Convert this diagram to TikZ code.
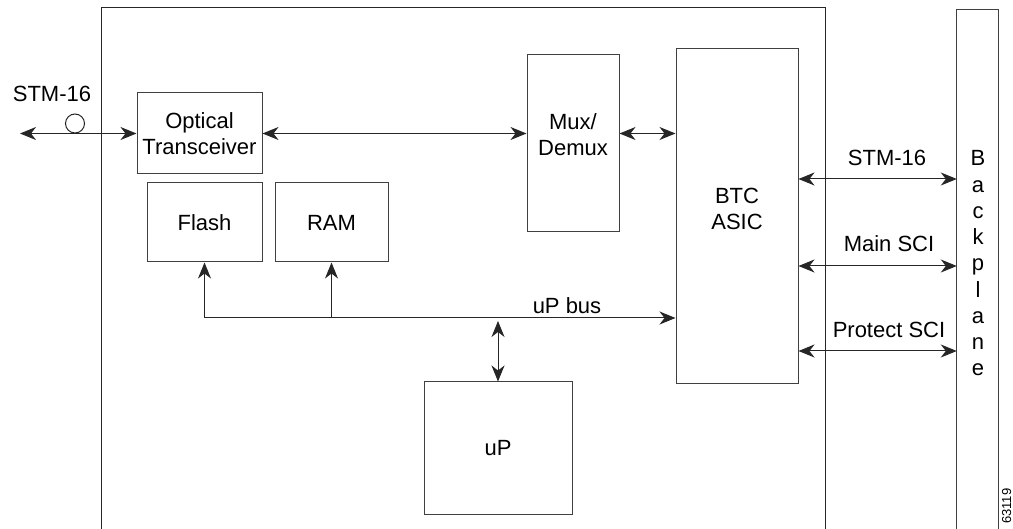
\documentclass[tikz,border=0pt]{standalone}
\usepackage{fontspec}
\setmainfont{Liberation Sans}
\usetikzlibrary{arrows.meta}
\begin{document}
\begin{tikzpicture}[x=1pt,y=-1pt,
  every node/.style={font=\fontsize{22}{26}\selectfont, text=black},
  box/.style={draw=black!75, line width=1pt, rectangle, inner sep=0pt, align=center},
  conn/.style={line width=1pt, draw=black!85},
  >={Stealth[length=16pt,width=13pt,inset=5pt]},
  lbl/.style={anchor=base, inner sep=0pt}]
\useasboundingbox (0,0) rectangle (1013,529);
% board and backplane frames (open at the bottom)
\node[inner sep=0pt, minimum width=723pt, minimum height=530pt] (board) at (463.5,273) {};
\draw[line width=1pt, black!85] (board.south west) -- (board.north west) -- (board.north east) -- (board.south east);
\node[inner sep=0pt, minimum width=41pt, minimum height=528pt] (bp) at (977.5,274) {};
\draw[line width=1pt, black!75] (bp.south west) -- (bp.north west) -- (bp.north east) -- (bp.south east);
% blocks
\node[box, minimum width=125pt, minimum height=81pt] (opt) at (199.5,133.5) {Optical\\Transceiver};
\node[box, minimum width=115pt, minimum height=79pt] (flash) at (204.5,222.5) {Flash};
\node[box, minimum width=113pt, minimum height=79pt] (ram) at (331.5,222.5) {RAM};
\node[box, minimum width=92pt, minimum height=177pt] (mux) at (573,143.5) {};
\node[align=center, inner sep=0pt] (muxt) at (573,135) {Mux/\\Demux};
\node[box, minimum width=122pt, minimum height=335pt] (btc) at (737,216.5) {};
\node[align=center, inner sep=0pt] (btct) at (737,209) {BTC\\ASIC};
\node[box, minimum width=148pt, minimum height=132pt] (up) at (498,448) {uP};
% line input
\node[lbl] (stml) at (52,102) {STM-16};
\node[draw=black!85, line width=1pt, circle, minimum size=19pt, inner sep=0pt] (lens) at (75,123.5) {};
\coordinate (stmend) at (20,133.5);
\draw[conn,<->] (stmend) -- (opt.west);
\draw[conn,<->] (opt.east) -- (opt.east -| mux.west);
\draw[conn,<->] (opt.east -| mux.east) -- (opt.east -| btc.west);
% uP bus
\coordinate (busL) at (flash.south |- 0,318);
\draw[conn,->] (busL) -- (busL -| btc.west);
\draw[conn,->] (busL) -- (flash.south);
\draw[conn,->] (ram.south |- busL) -- (ram.south);
\draw[conn,<->] (up.north |- 0,321) -- (up.north);
\node[lbl] (busl) at (567,314) {uP bus};
% backplane connections
\draw[conn,<->] (btc.east |- 0,179) -- (bp.west |- 0,179);
\draw[conn,<->] (btc.east |- 0,266) -- (bp.west |- 0,266);
\draw[conn,<->] (btc.east |- 0,351) -- (bp.west |- 0,351);
\node[lbl] (l1) at (887,166) {STM-16};
\node[lbl] (l2) at (889,252) {Main SCI};
\node[lbl] (l3) at (889,338) {Protect SCI};
% backplane letters
\foreach \ch [count=\i from 0] in {B,a,c,k,p,l,a,n,e}
  \node[lbl] (bpl\i) at (978,166+26.25*\i) {\ch};
% figure number
\node[rotate=90, anchor=base west, inner sep=0pt, font=\fontsize{13}{16}\selectfont] (fig) at (1011,524) {63119};
\end{tikzpicture}
\end{document}
